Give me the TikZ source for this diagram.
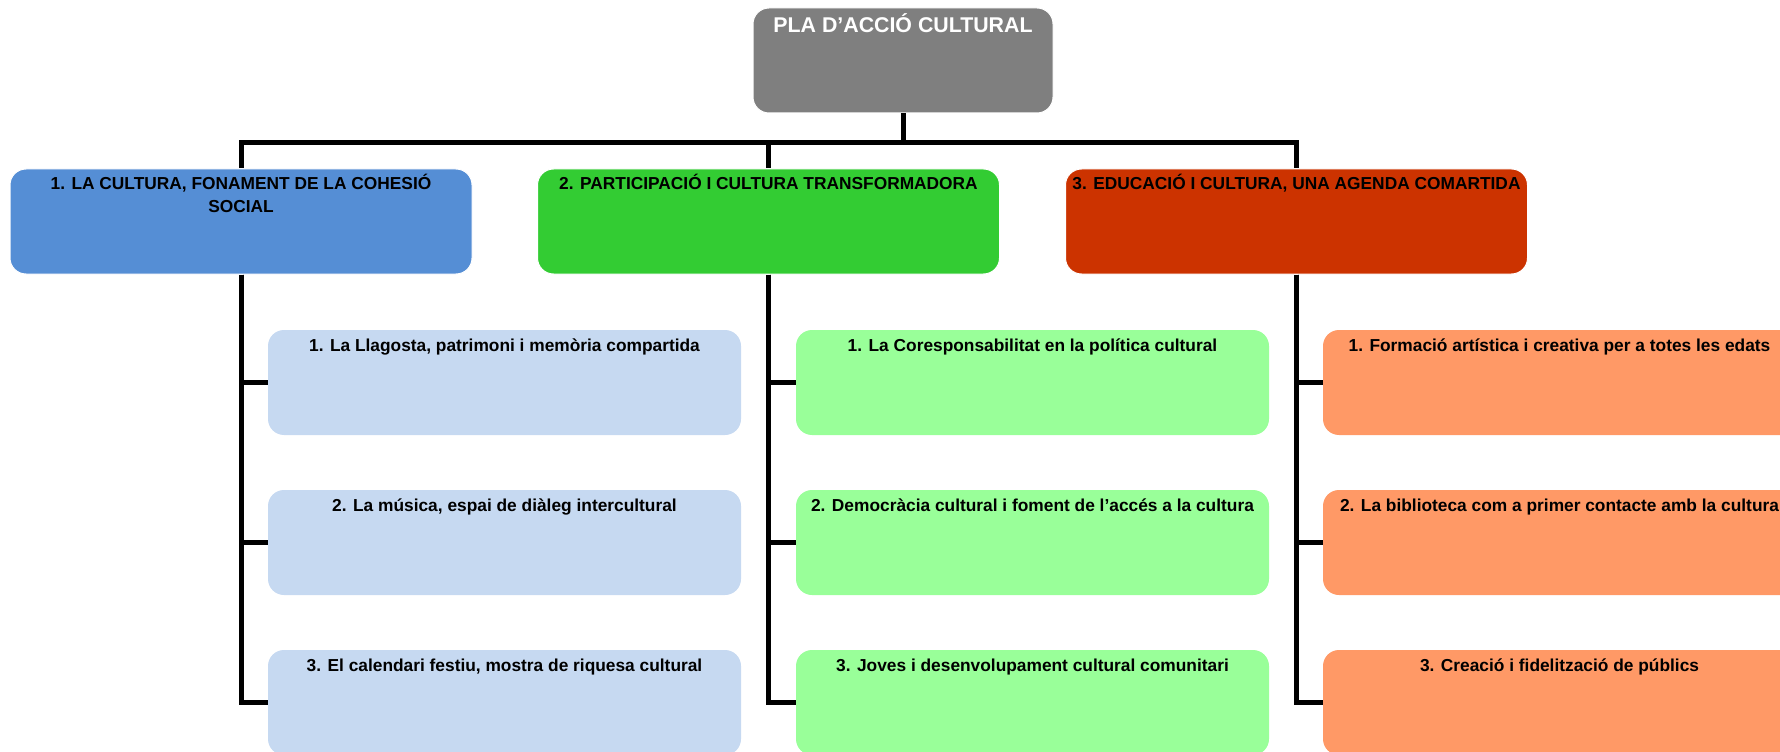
\documentclass[tikz,border=0pt]{standalone}
\usepackage{fontspec}
\setmainfont{Liberation Sans}

\definecolor{grisCap}{RGB}{127,127,127}
\definecolor{blauFort}{RGB}{85,142,213}
\definecolor{verdFort}{RGB}{51,204,51}
\definecolor{vermFort}{RGB}{204,51,0}
\definecolor{blauClar}{RGB}{198,217,241}
\definecolor{verdClar}{RGB}{153,255,153}
\definecolor{taronja}{RGB}{255,153,102}

\tikzset{every picture/.style={line width=0.75pt}}
\tikzset{
  capbox/.style={rounded corners=12pt, fill=grisCap, draw=white, minimum width=225pt, minimum height=78.75pt},
  eixbox/.style={rounded corners=12pt, draw=white, minimum width=346.5pt, minimum height=78.75pt},
  liniabox/.style={rounded corners=12pt, minimum width=354.75pt, minimum height=78.75pt},
  captext/.style={anchor=base, inner sep=0pt, text=white, font=\bfseries\fontsize{16}{19}\selectfont},
  eixtext/.style={anchor=base, inner sep=0pt, align=center, font=\bfseries\fontsize{13}{17}\selectfont},
  liniatext/.style={anchor=base, inner sep=0pt, font=\bfseries\fontsize{13}{16}\selectfont},
  branca/.style={line width=3.75pt, black}
}

\begin{document}
\begin{tikzpicture}[x=0.75pt, y=0.75pt, yscale=-1, xscale=1]

    \useasboundingbox (0,0) rectangle (1780,752);

    % Capcalera
    \node [capbox] (pla) at (903,60.5) {};
    \node [captext] (plaT) at ([yshift=18.75pt]pla.north) {PLA D’ACCIÓ CULTURAL};

    % Eixos
    \node [eixbox, fill=blauFort] (eix1) at (241,221.5) {};
    \node [eixbox, fill=verdFort] (eix2) at (768.5,221.5) {};
    \node [eixbox, fill=vermFort] (eix3) at (1296.5,221.5) {};

    % (base = ultima linia)
    \node [eixtext] (eix1T) at ([yshift=33pt]eix1.north) {1. LA CULTURA, FONAMENT DE LA COHESIÓ\\SOCIAL};
    \node [eixtext] (eix2T) at ([yshift=15.75pt]eix2.north) {2. PARTICIPACIÓ I CULTURA TRANSFORMADORA};
    \node [eixtext] (eix3T) at ([yshift=15.75pt]eix3.north) {3. EDUCACIÓ I CULTURA, UNA AGENDA COMARTIDA};

    % Linies eix 1
    \node [liniabox, fill=blauClar] (l11) at (504.5,382.5) {};
    \node [liniabox, fill=blauClar] (l12) at (504.5,542.5) {};
    \node [liniabox, fill=blauClar] (l13) at (504.5,702.5) {};
    \node [liniatext] (l11T) at ([yshift=16.5pt]l11.north) {1. La Llagosta, patrimoni i memòria compartida};
    \node [liniatext] (l12T) at ([yshift=16.5pt]l12.north) {2. La música, espai de diàleg intercultural};
    \node [liniatext] (l13T) at ([yshift=16.5pt]l13.north) {3. El calendari festiu, mostra de riquesa cultural};

    % Linies eix 2
    \node [liniabox, fill=verdClar] (l21) at (1032.5,382.5) {};
    \node [liniabox, fill=verdClar] (l22) at (1032.5,542.5) {};
    \node [liniabox, fill=verdClar] (l23) at (1032.5,702.5) {};
    \node [liniatext] (l21T) at ([yshift=16.5pt]l21.north) {1. La Coresponsabilitat en la política cultural};
    \node [liniatext] (l22T) at ([yshift=16.5pt]l22.north) {2. Democràcia cultural i foment de l’accés a la cultura};
    \node [liniatext] (l23T) at ([yshift=16.5pt]l23.north) {3. Joves i desenvolupament cultural comunitari};

    % Linies eix 3
    \node [liniabox, fill=taronja] (l31) at (1559.5,382.5) {};
    \node [liniabox, fill=taronja] (l32) at (1559.5,542.5) {};
    \node [liniabox, fill=taronja] (l33) at (1559.5,702.5) {};
    \node [liniatext] (l31T) at ([yshift=16.5pt]l31.north) {1. Formació artística i creativa per a totes les edats};
    \node [liniatext] (l32T) at ([yshift=16.5pt]l32.north) {2. La biblioteca com a primer contacte amb la cultura};
    \node [liniatext] (l33T) at ([yshift=16.5pt]l33.north) {3. Creació i fidelització de públics};

    % Capcalera - eixos
    \coordinate (barra) at (903,143);
    \draw [branca] (pla.south) -- (barra);
    \draw [branca] (barra) -| (eix1.north);
    \draw [branca] (barra) -| (eix2.north);
    \draw [branca] (barra) -| (eix3.north);

    % Eix - linies
    \draw [branca] (eix1.south) |- (l11.west);
    \draw [branca] (eix1.south) |- (l12.west);
    \draw [branca] (eix1.south) |- (l13.west);

    \draw [branca] (eix2.south) |- (l21.west);
    \draw [branca] (eix2.south) |- (l22.west);
    \draw [branca] (eix2.south) |- (l23.west);

    \draw [branca] (eix3.south) |- (l31.west);
    \draw [branca] (eix3.south) |- (l32.west);
    \draw [branca] (eix3.south) |- (l33.west);

\end{tikzpicture}
\end{document}
